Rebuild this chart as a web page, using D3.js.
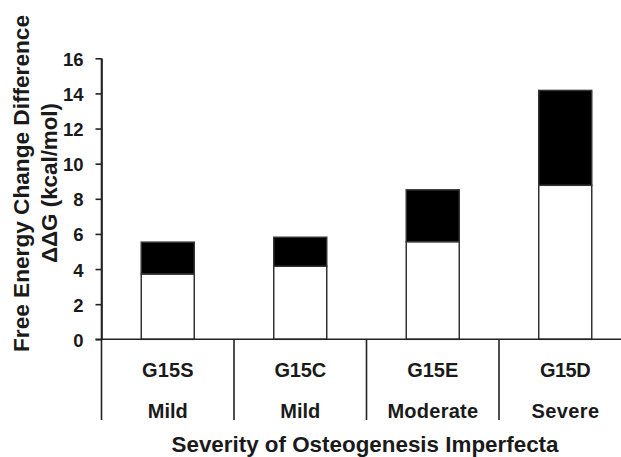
<!DOCTYPE html>
<html>
<head>
<meta charset="utf-8">
<script src="https://cdn.jsdelivr.net/npm/d3@7"></script>
<style>
  html, body { margin: 0; padding: 0; background: #fff; }
  svg { display: block; }
  text { font-family: "Liberation Sans", Arial, sans-serif; font-weight: bold; fill: #1a1a1a; }
</style>
</head>
<body>
<svg id="chart" width="621" height="457"></svg>
<script>
// ---- data ----
const mutations = ["G15S", "G15C", "G15E", "G15D"];
const severities = ["Mild", "Mild", "Moderate", "Severe"];
const lowerValues = [3.72, 4.16, 5.56, 8.77];   // white segment
const upperValues = [1.81, 1.65, 2.95, 5.40];   // black segment (stacked on top)
const yTicks = [0, 2, 4, 6, 8, 10, 12, 14, 16];
const yTitleLines = ["Free Energy Change Difference", "\u0394\u0394G (kcal/mol)"];
const xTitle = "Severity of Osteogenesis Imperfecta";

// ---- layout ----
const W = 621, H = 457;
const svg = d3.select("#chart");
svg.append("rect").attr("width", W).attr("height", H).attr("fill", "#fff");

const axisX = 101.5;
const bandW = 132.5;
const x = d3.scaleBand().domain(mutations).range([axisX, axisX + bandW * mutations.length]).padding(0);
const y = d3.scaleLinear().domain([0, 16]).range([339.3, 58.3]);
const tableBottom = 420;
const barW = x.bandwidth() * 0.4;

const rows = mutations.map((m, i) => ({
  m, sev: severities[i], lo: lowerValues[i], hi: upperValues[i]
}));
const stack = d3.stack().keys(["lo", "hi"])(rows);
const fills = { lo: "#ffffff", hi: "#000000" };

// bars
svg.append("g").selectAll("g").data(stack).join("g")
  .attr("fill", d => fills[d.key])
  .selectAll("rect").data(d => d).join("rect")
  .attr("x", d => x(d.data.m) + (x.bandwidth() - barW) / 2)
  .attr("width", barW)
  .attr("y", d => y(d[1]))
  .attr("height", d => y(d[0]) - y(d[1]))
  .attr("stroke", "#333")
  .attr("stroke-width", 1.5);

// y axis
const yAxis = svg.append("g")
  .attr("transform", `translate(${axisX},0)`)
  .call(d3.axisLeft(y).tickValues(yTicks).tickSize(6).tickSizeOuter(0).tickPadding(12));
yAxis.select(".domain").attr("stroke", "#222").attr("stroke-width", 1.6);
yAxis.selectAll(".tick line").attr("stroke", "#222").attr("stroke-width", 1.6);
yAxis.selectAll(".tick text")
  .attr("font-size", 18.5)
  .attr("font-family", "Liberation Sans, Arial, sans-serif")
  .attr("font-weight", "bold")
  .attr("fill", "#1a1a1a")
  .attr("dy", "0.38em");

// x axis baseline
svg.append("line")
  .attr("x1", axisX - 6).attr("x2", W)
  .attr("y1", y(0)).attr("y2", y(0))
  .attr("stroke", "#222").attr("stroke-width", 1.6);

// table dividers (band boundaries)
svg.append("g").selectAll("line").data(mutations).join("line")
  .attr("x1", d => x(d)).attr("x2", d => x(d))
  .attr("y1", (d, i) => i === 0 ? y(16) : y(0))
  .attr("y2", tableBottom)
  .attr("stroke", "#222").attr("stroke-width", 1.6);

// category labels
const labelLens1 = [51.6, 51.7, 51, 50.7];
const labelLens2 = [40, 40, 90.7, 67.7];
svg.append("g").selectAll("text").data(rows).join("text")
  .attr("x", d => x(d.m) + x.bandwidth() / 2)
  .attr("y", 376.5)
  .attr("text-anchor", "middle")
  .attr("font-size", 20)
  .attr("textLength", (d, i) => labelLens1[i])
  .attr("lengthAdjust", "spacing")
  .text(d => d.m);
svg.append("g").selectAll("text").data(rows).join("text")
  .attr("x", d => x(d.m) + x.bandwidth() / 2)
  .attr("y", 418)
  .attr("text-anchor", "middle")
  .attr("font-size", 20)
  .attr("textLength", (d, i) => labelLens2[i])
  .attr("lengthAdjust", "spacing")
  .text(d => d.sev);

// x title
svg.append("text")
  .attr("x", 365).attr("y", 452)
  .attr("text-anchor", "middle")
  .attr("font-size", 21.5)
  .attr("textLength", 387)
  .attr("lengthAdjust", "spacingAndGlyphs")
  .text(xTitle);

// y title
const yTitlePos = [{ bx: 28.5, cy: 183.5, len: 337 }, { bx: 56.5, cy: 183, len: 160 }];
svg.append("g").selectAll("text").data(yTitleLines).join("text")
  .attr("transform", (d, i) => `translate(${yTitlePos[i].bx},${yTitlePos[i].cy}) rotate(-90)`)
  .attr("text-anchor", "middle")
  .attr("font-size", 22)
  .attr("textLength", (d, i) => yTitlePos[i].len)
  .attr("lengthAdjust", "spacingAndGlyphs")
  .text(d => d);
</script>
</body>
</html>
